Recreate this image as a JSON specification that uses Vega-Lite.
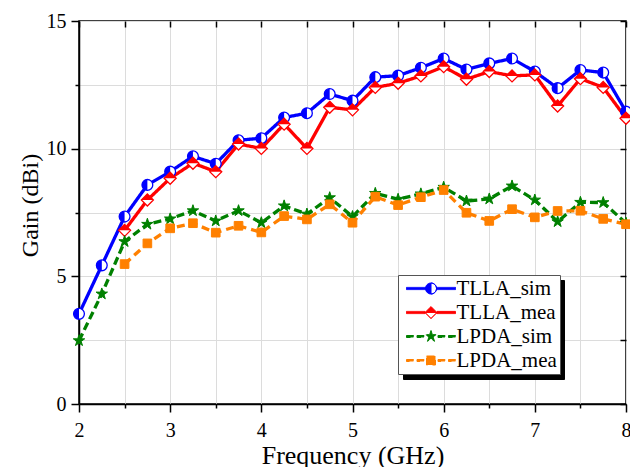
{
  "$schema": "https://vega.github.io/schema/vega-lite/v6.json",
  "width": 547,
  "height": 383,
  "autosize": {"type": "none"},
  "padding": {"left": 79, "top": 21, "right": 4, "bottom": 63},
  "background": "white",
  "config": {
    "view": {"stroke": "#000", "strokeWidth": 1.5},
    "font": "Liberation Serif",
    "axis": {
      "labelFont": "Liberation Serif", "titleFont": "Liberation Serif",
      "labelColor": "#000", "titleColor": "#000", "tickColor": "#000",
      "domainColor": "#000", "domainWidth": 1.5, "tickWidth": 1.5,
      "gridColor": "#dcdcdc", "gridWidth": 1, "labelFontSize": 20,
      "titleFontWeight": "normal", "labelOverlap": false, "labelFlush": false
    }
  },
  "data": {"values": [
    {"f": 2, "s": "TLLA_sim", "g": 3.53}, {"f": 2.25, "s": "TLLA_sim", "g": 5.43}, {"f": 2.5, "s": "TLLA_sim", "g": 7.34}, {"f": 2.75, "s": "TLLA_sim", "g": 8.58}, {"f": 3, "s": "TLLA_sim", "g": 9.10}, {"f": 3.25, "s": "TLLA_sim", "g": 9.70}, {"f": 3.5, "s": "TLLA_sim", "g": 9.41}, {"f": 3.75, "s": "TLLA_sim", "g": 10.33}, {"f": 4, "s": "TLLA_sim", "g": 10.41}, {"f": 4.25, "s": "TLLA_sim", "g": 11.22}, {"f": 4.5, "s": "TLLA_sim", "g": 11.39}, {"f": 4.75, "s": "TLLA_sim", "g": 12.14}, {"f": 5, "s": "TLLA_sim", "g": 11.88}, {"f": 5.25, "s": "TLLA_sim", "g": 12.80}, {"f": 5.5, "s": "TLLA_sim", "g": 12.86}, {"f": 5.75, "s": "TLLA_sim", "g": 13.17}, {"f": 6, "s": "TLLA_sim", "g": 13.53}, {"f": 6.25, "s": "TLLA_sim", "g": 13.10}, {"f": 6.5, "s": "TLLA_sim", "g": 13.34}, {"f": 6.75, "s": "TLLA_sim", "g": 13.53}, {"f": 7, "s": "TLLA_sim", "g": 13.02}, {"f": 7.25, "s": "TLLA_sim", "g": 12.37}, {"f": 7.5, "s": "TLLA_sim", "g": 13.08}, {"f": 7.75, "s": "TLLA_sim", "g": 12.98}, {"f": 8, "s": "TLLA_sim", "g": 11.45},
    {"f": 2.5, "s": "TLLA_mea", "g": 6.80}, {"f": 2.75, "s": "TLLA_mea", "g": 7.99}, {"f": 3, "s": "TLLA_mea", "g": 8.84}, {"f": 3.25, "s": "TLLA_mea", "g": 9.43}, {"f": 3.5, "s": "TLLA_mea", "g": 9.10}, {"f": 3.75, "s": "TLLA_mea", "g": 10.18}, {"f": 4, "s": "TLLA_mea", "g": 10.01}, {"f": 4.25, "s": "TLLA_mea", "g": 10.96}, {"f": 4.5, "s": "TLLA_mea", "g": 10.01}, {"f": 4.75, "s": "TLLA_mea", "g": 11.62}, {"f": 5, "s": "TLLA_mea", "g": 11.52}, {"f": 5.25, "s": "TLLA_mea", "g": 12.40}, {"f": 5.5, "s": "TLLA_mea", "g": 12.56}, {"f": 5.75, "s": "TLLA_mea", "g": 12.85}, {"f": 6, "s": "TLLA_mea", "g": 13.21}, {"f": 6.25, "s": "TLLA_mea", "g": 12.72}, {"f": 6.5, "s": "TLLA_mea", "g": 13.02}, {"f": 6.75, "s": "TLLA_mea", "g": 12.85}, {"f": 7, "s": "TLLA_mea", "g": 12.89}, {"f": 7.25, "s": "TLLA_mea", "g": 11.67}, {"f": 7.5, "s": "TLLA_mea", "g": 12.74}, {"f": 7.75, "s": "TLLA_mea", "g": 12.40}, {"f": 8, "s": "TLLA_mea", "g": 11.19},
    {"f": 2, "s": "LPDA_sim", "g": 2.48}, {"f": 2.25, "s": "LPDA_sim", "g": 4.31}, {"f": 2.5, "s": "LPDA_sim", "g": 6.36}, {"f": 2.75, "s": "LPDA_sim", "g": 7.04}, {"f": 3, "s": "LPDA_sim", "g": 7.25}, {"f": 3.25, "s": "LPDA_sim", "g": 7.57}, {"f": 3.5, "s": "LPDA_sim", "g": 7.17}, {"f": 3.75, "s": "LPDA_sim", "g": 7.57}, {"f": 4, "s": "LPDA_sim", "g": 7.10}, {"f": 4.25, "s": "LPDA_sim", "g": 7.76}, {"f": 4.5, "s": "LPDA_sim", "g": 7.44}, {"f": 4.75, "s": "LPDA_sim", "g": 8.08}, {"f": 5, "s": "LPDA_sim", "g": 7.34}, {"f": 5.25, "s": "LPDA_sim", "g": 8.25}, {"f": 5.5, "s": "LPDA_sim", "g": 8.02}, {"f": 5.75, "s": "LPDA_sim", "g": 8.23}, {"f": 6, "s": "LPDA_sim", "g": 8.49}, {"f": 6.25, "s": "LPDA_sim", "g": 7.95}, {"f": 6.5, "s": "LPDA_sim", "g": 8.03}, {"f": 6.75, "s": "LPDA_sim", "g": 8.54}, {"f": 7, "s": "LPDA_sim", "g": 7.99}, {"f": 7.25, "s": "LPDA_sim", "g": 7.14}, {"f": 7.5, "s": "LPDA_sim", "g": 7.90}, {"f": 7.75, "s": "LPDA_sim", "g": 7.89}, {"f": 8, "s": "LPDA_sim", "g": 7.08},
    {"f": 2.5, "s": "LPDA_mea", "g": 5.48}, {"f": 2.75, "s": "LPDA_mea", "g": 6.29}, {"f": 3, "s": "LPDA_mea", "g": 6.88}, {"f": 3.25, "s": "LPDA_mea", "g": 7.08}, {"f": 3.5, "s": "LPDA_mea", "g": 6.71}, {"f": 3.75, "s": "LPDA_mea", "g": 6.98}, {"f": 4, "s": "LPDA_mea", "g": 6.72}, {"f": 4.25, "s": "LPDA_mea", "g": 7.36}, {"f": 4.5, "s": "LPDA_mea", "g": 7.23}, {"f": 4.75, "s": "LPDA_mea", "g": 7.82}, {"f": 5, "s": "LPDA_mea", "g": 7.10}, {"f": 5.25, "s": "LPDA_mea", "g": 8.12}, {"f": 5.5, "s": "LPDA_mea", "g": 7.79}, {"f": 5.75, "s": "LPDA_mea", "g": 8.10}, {"f": 6, "s": "LPDA_mea", "g": 8.38}, {"f": 6.25, "s": "LPDA_mea", "g": 7.49}, {"f": 6.5, "s": "LPDA_mea", "g": 7.17}, {"f": 6.75, "s": "LPDA_mea", "g": 7.63}, {"f": 7, "s": "LPDA_mea", "g": 7.31}, {"f": 7.25, "s": "LPDA_mea", "g": 7.56}, {"f": 7.5, "s": "LPDA_mea", "g": 7.57}, {"f": 7.75, "s": "LPDA_mea", "g": 7.25}, {"f": 8, "s": "LPDA_mea", "g": 7.04}
  ]},
  "resolve": {"axis": {"x": "independent", "y": "independent"}},
  "layer": [
    {
      "mark": {"type": "point", "opacity": 0},
      "encoding": {
        "x": {"field": "f", "type": "quantitative", "axis": null},
        "y": {"field": "g", "type": "quantitative", "axis": null},
        "fill": {"field": "s", "type": "nominal",
          "scale": {"domain": ["LPDA_mea", "LPDA_sim", "TLLA_mea", "TLLA_sim"], "range": ["#000000", "#000000", "#000000", "#000000"]},
          "legend": {
            "orient": "none", "legendX": 324, "legendY": 259, "title": null, "zindex": 0,
            "labelExpr": "'                   '",
            "labelFont": "Liberation Serif", "labelFontSize": 21, "labelColor": "#000",
            "symbolSize": 100, "symbolStrokeWidth": 1, "symbolOffset": 19.5, "labelOffset": 114, "symbolOpacity": 0,
            "padding": 3, "rowPadding": 2, "fillColor": "#000000", "strokeColor": "#000000"
          }}
      }
    },
    {
      "mark": {"type": "line", "strokeWidth": 3.3},
      "encoding": {
        "x": {"field": "f", "type": "quantitative", "scale": {"domain": [2, 8], "nice": false, "zero": false},
          "axis": {"orient": "bottom", "values": [2, 2.5, 3, 3.5, 4, 4.5, 5, 5.5, 6, 6.5, 7, 7.5, 8],
            "labelExpr": "datum.value % 1 === 0 ? format(datum.value, 'd') : ''", "grid": true,
            "tickSize": {"condition": {"test": "datum.value % 1 === 0", "value": 8}, "value": 4},
            "labelPadding": 8, "title": "Frequency (GHz)", "titleFontSize": 26,
            "titleY": 59, "titleBaseline": "alphabetic"}},
        "y": {"field": "g", "type": "quantitative", "scale": {"domain": [0, 15], "nice": false},
          "axis": {"orient": "left", "values": [0, 2.5, 5, 7.5, 10, 12.5, 15],
            "labelExpr": "datum.value % 5 === 0 ? format(datum.value, 'd') : ''", "grid": true,
            "tickSize": {"condition": {"test": "datum.value % 5 === 0", "value": 8}, "value": 4},
            "labelPadding": 5, "title": "Gain (dBi)", "titleFontSize": 24,
            "titleX": -42, "titleY": 184, "titleBaseline": "alphabetic"}},
        "stroke": {"field": "s", "type": "nominal",
          "scale": {"domain": ["TLLA_sim", "TLLA_mea", "LPDA_sim", "LPDA_mea"], "range": ["#0000ff", "#ff0000", "#008000", "#ff8000"]},
          "legend": {
            "orient": "none", "legendX": 319, "legendY": 254, "title": null, "zindex": 1,
            "labelFont": "Liberation Serif", "labelFontSize": 21, "labelColor": "#000",
            "symbolSize": 100, "symbolStrokeWidth": 1, "symbolOffset": 19.5, "labelOffset": 15, "symbolOpacity": 1,
            "padding": 3, "rowPadding": 2, "fillColor": "#ffffff", "strokeColor": "#555555",
            "encode": {"symbols": {"update": {
              "shape": {"signal": "datum.value === 'TLLA_sim' ? 'M-4.9,-0.22 L-1.1,-0.22 L-1.1,0.22 L-4.9,0.22 Z M1.1,-0.22 L4.9,-0.22 L4.9,0.22 L1.1,0.22 Z M0,-1.1 A1.1,1.1 0 0,1 0,1.1 A1.1,1.1 0 0,1 0,-1.1 Z M0,-1.1 L0,1.1 A1.1,1.1 0 0,0 0,-1.1 Z' : datum.value === 'TLLA_mea' ? 'M-4.9,-0.22 L-1.2,-0.22 L-1.2,0.22 L-4.9,0.22 Z M1.2,-0.22 L4.9,-0.22 L4.9,0.22 L1.2,0.22 Z M0,-1.2 L1.2,0 L0,1.2 L-1.2,0 Z M-1.2,0 L0,1.2 L1.2,0 Z' : datum.value === 'LPDA_sim' ? 'M-4.9,-0.2 L-3.5,-0.2 L-3.5,0.2 L-4.9,0.2 Z M-2.8,-0.2 L-1.4,-0.2 L-1.4,0.2 L-2.8,0.2 Z M1.4,-0.2 L2.8,-0.2 L2.8,0.2 L1.4,0.2 Z M3.5,-0.2 L4.9,-0.2 L4.9,0.2 L3.5,0.2 Z M0,-1.2 L0.27,-0.371 L1.141,-0.371 L0.436,0.142 L0.706,0.971 L0,0.458 L-0.706,0.971 L-0.436,0.142 L-1.141,-0.371 L-0.27,-0.371 Z' : 'M-4.9,-0.2 L-3.5,-0.2 L-3.5,0.2 L-4.9,0.2 Z M-2.8,-0.2 L-1.4,-0.2 L-1.4,0.2 L-2.8,0.2 Z M1.4,-0.2 L2.8,-0.2 L2.8,0.2 L1.4,0.2 Z M3.5,-0.2 L4.9,-0.2 L4.9,0.2 L3.5,0.2 Z M-0.9,-0.9 L0.9,-0.9 L0.9,0.9 L-0.9,0.9 Z'"},
              "fill": {"signal": "datum.value === 'TLLA_sim' ? '#0000ff' : datum.value === 'TLLA_mea' ? '#ff0000' : datum.value === 'LPDA_sim' ? '#008000' : '#ff8000'"},
              "strokeWidth": {"value": 1},
              "strokeDash": {"value": []},
              "opacity": {"value": 1}
            }}}
          }},
        "strokeDash": {"field": "s", "type": "nominal",
          "scale": {"domain": ["TLLA_sim", "TLLA_mea", "LPDA_sim", "LPDA_mea"], "range": [[1, 0], [1, 0], [8, 4], [8, 5]]},
          "legend": null}
      }
    },
    {
      "transform": [{"filter": "datum.s === 'TLLA_sim'"}],
      "mark": {"type": "point", "filled": true, "size": 144, "strokeWidth": 1.3, "opacity": 1, "fill": "#ffffff", "stroke": "#0000ff", "shape": "M0,-0.9 A0.9,0.9 0 0,1 0,0.9 A0.9,0.9 0 0,1 0,-0.9 Z"},
      "encoding": {
        "x": {"field": "f", "type": "quantitative",
          "axis": {"orient": "top", "values": [2, 2.5, 3, 3.5, 4, 4.5, 5, 5.5, 6, 6.5, 7, 7.5, 8], "labels": false, "grid": false, "domain": false, "title": null,
            "tickSize": 6, "offset": -6}},
        "y": {"field": "g", "type": "quantitative",
          "axis": {"orient": "right", "values": [0, 2.5, 5, 7.5, 10, 12.5, 15], "labels": false, "grid": false, "domain": false, "title": null,
            "tickSize": 6, "offset": -6}}
      }
    },
    {
      "transform": [{"filter": "datum.s === 'TLLA_sim'"}],
      "mark": {"type": "point", "filled": true, "size": 144, "strokeWidth": 0, "opacity": 1, "fill": "#0000ff", "shape": "M0,-0.9 A0.9,0.9 0 0,0 0,0.9 Z"},
      "encoding": {
        "x": {"field": "f", "type": "quantitative", "axis": null},
        "y": {"field": "g", "type": "quantitative", "axis": null}
      }
    },
    {
      "transform": [{"filter": "datum.s === 'TLLA_mea'"}],
      "mark": {"type": "point", "filled": true, "size": 144, "strokeWidth": 1.3, "opacity": 1, "fill": "#ffffff", "stroke": "#ff0000", "shape": "M0,-1 L1,0 L0,1 L-1,0 Z"},
      "encoding": {
        "x": {"field": "f", "type": "quantitative", "axis": null},
        "y": {"field": "g", "type": "quantitative", "axis": null}
      }
    },
    {
      "transform": [{"filter": "datum.s === 'TLLA_mea'"}],
      "mark": {"type": "point", "filled": true, "size": 144, "strokeWidth": 0, "opacity": 1, "fill": "#ff0000", "shape": "M-1,0 L0,-1 L1,0 Z"},
      "encoding": {
        "x": {"field": "f", "type": "quantitative", "axis": null},
        "y": {"field": "g", "type": "quantitative", "axis": null}
      }
    },
    {
      "transform": [{"filter": "datum.s === 'LPDA_sim'"}],
      "mark": {"type": "point", "filled": true, "size": 144, "strokeWidth": 1, "opacity": 1, "fill": "#008000", "stroke": "#008000", "shape": "M0,-1 L0.225,-0.309 L0.951,-0.309 L0.363,0.118 L0.588,0.809 L0,0.382 L-0.588,0.809 L-0.363,0.118 L-0.951,-0.309 L-0.225,-0.309 Z"},
      "encoding": {
        "x": {"field": "f", "type": "quantitative", "axis": null},
        "y": {"field": "g", "type": "quantitative", "axis": null}
      }
    },
    {
      "transform": [{"filter": "datum.s === 'LPDA_mea'"}],
      "mark": {"type": "point", "filled": true, "size": 144, "strokeWidth": 1, "opacity": 1, "fill": "#ff8000", "stroke": "#ff8000", "shape": "M-0.72,-0.72 L0.72,-0.72 L0.72,0.72 L-0.72,0.72 Z"},
      "encoding": {
        "x": {"field": "f", "type": "quantitative", "axis": null},
        "y": {"field": "g", "type": "quantitative", "axis": null}
      }
    }
  ]
}
